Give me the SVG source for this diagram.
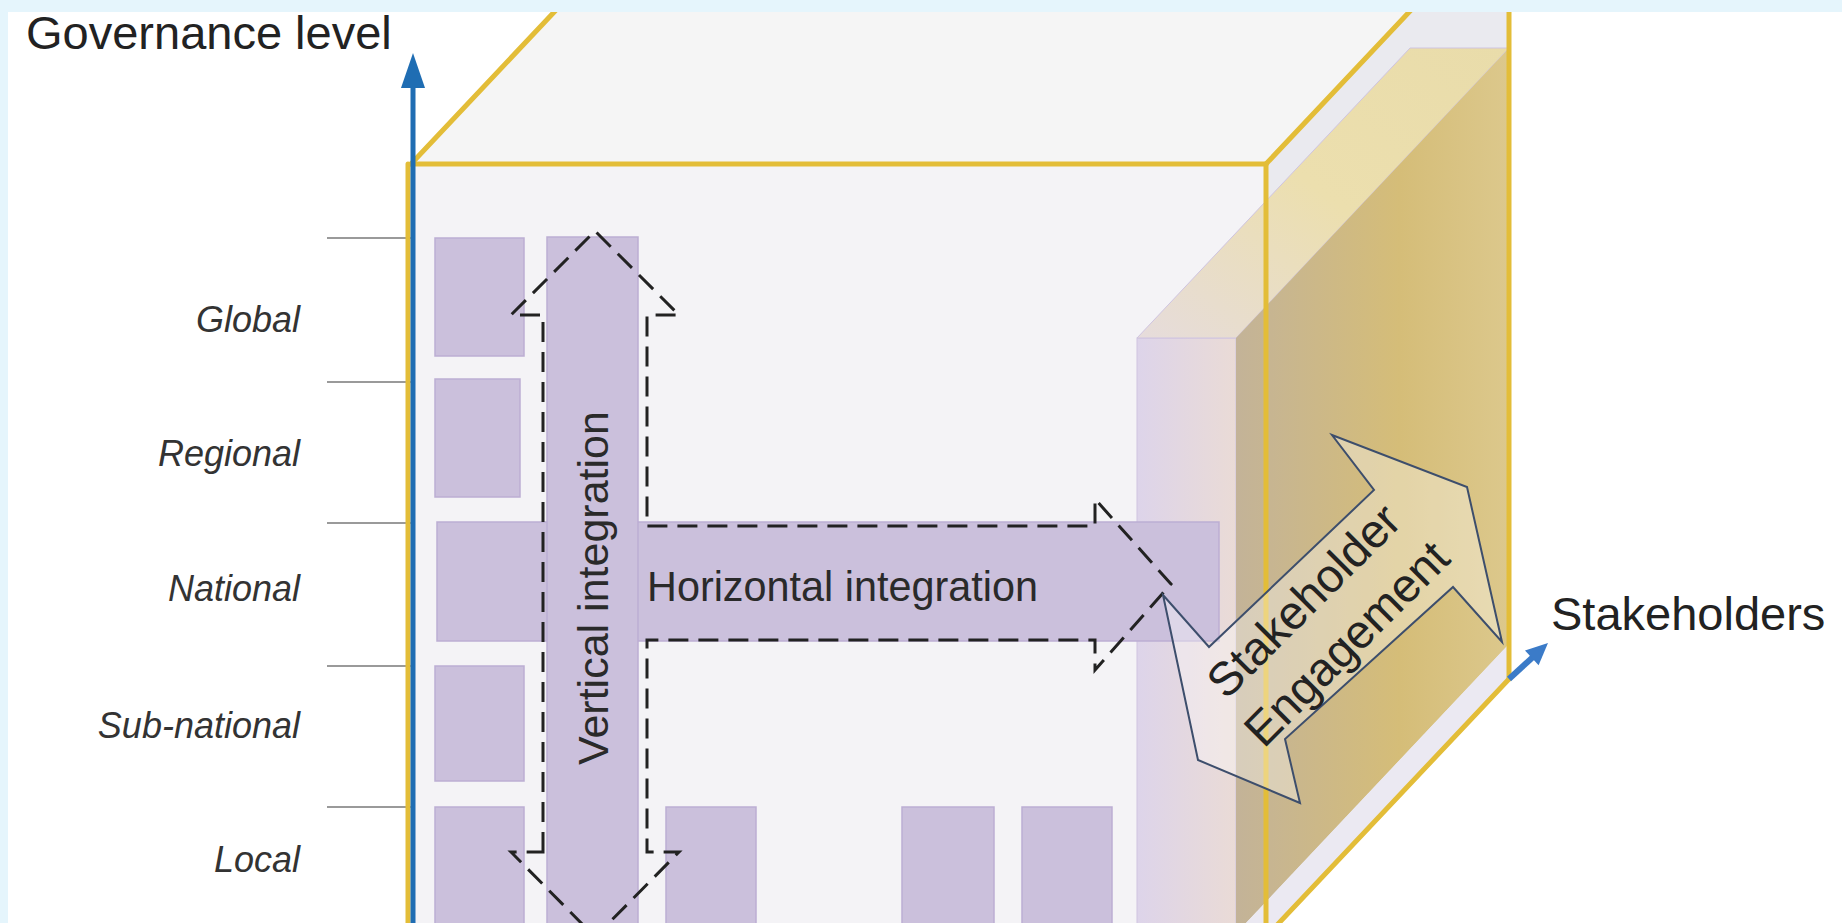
<svg xmlns="http://www.w3.org/2000/svg" width="1842" height="923" viewBox="0 0 1842 923">
<defs>
<style>
.box{fill:#cbc0dc;stroke:#bcaed3;stroke-width:1.5}
.tick{stroke:#9a9a9a;stroke-width:2}
.edge{stroke:#e3bd38;stroke-width:5;fill:none;stroke-linecap:round}
.lvl{font-family:"Liberation Sans",Arial,sans-serif;font-style:italic;font-size:36px;fill:#333;text-anchor:end}
.big{font-family:"Liberation Sans",Arial,sans-serif;font-size:47px;fill:#222}
.mid{font-family:"Liberation Sans",Arial,sans-serif;font-size:43px;fill:#2a2a2a}
.dash{fill:none;stroke:#222;stroke-width:3;stroke-dasharray:20 10}
</style>
<linearGradient id="slabFront" x1="0" y1="0" x2="1" y2="0">
<stop offset="0" stop-color="#ddd4ea"/>
<stop offset="1" stop-color="#eadbd6"/>
</linearGradient>
<linearGradient id="slabTop" x1="0" y1="1" x2="1" y2="0">
<stop offset="0" stop-color="#e6dcdc"/>
<stop offset="0.5" stop-color="#ecdfae"/>
<stop offset="1" stop-color="#e9dcaa"/>
</linearGradient>
<linearGradient id="slabSide" x1="0" y1="0" x2="1" y2="0">
<stop offset="0" stop-color="#c3b398"/>
<stop offset="0.6" stop-color="#d5bd78"/>
<stop offset="1" stop-color="#dcc88c"/>
</linearGradient>
</defs>
<rect x="0" y="0" width="1842" height="923" fill="#ffffff"/>

<g id="cube-faces">
<polygon points="411,164 654,-94 1509,-94 1266,164" fill="#f5f5f5"/>
<polygon points="1266,164 1509,-94 1509,679 1266,937" fill="#eaeaef"/>
<rect x="411" y="164" width="855" height="773" fill="#f4f3f6"/>
</g>

<g id="level-ticks">
<line class="tick" x1="327" y1="238" x2="411" y2="238"/>
<line class="tick" x1="327" y1="382" x2="411" y2="382"/>
<line class="tick" x1="327" y1="523" x2="411" y2="523"/>
<line class="tick" x1="327" y1="666" x2="411" y2="666"/>
<line class="tick" x1="327" y1="807" x2="411" y2="807"/>
</g>

<g id="stakeholder-slab">
<rect x="1137" y="338" width="99" height="600" fill="url(#slabFront)" stroke="#cfc4e0" stroke-width="1"/>
<polygon points="1137,338 1236,338 1509,48 1410,48" fill="url(#slabTop)" stroke="#cfc4e0" stroke-width="1"/>
<polygon points="1236,338 1509,48 1509,644 1246,923 1236,923" fill="url(#slabSide)"/>
<polygon points="1509,644 1509,679 1266,937 1246,923" fill="#ebe9f2"/>
</g>

<g id="box-global"><rect class="box" x="435" y="238" width="89" height="118"/></g>
<g id="box-regional"><rect class="box" x="435" y="379" width="85" height="118"/></g>
<g id="box-subnational"><rect class="box" x="435" y="666" width="89" height="115"/></g>
<g id="box-local-1"><rect class="box" x="435" y="807" width="89" height="130"/></g>
<g id="box-local-3"><rect class="box" x="666" y="807" width="90" height="130"/></g>
<g id="box-local-4"><rect class="box" x="902" y="807" width="92" height="130"/></g>
<g id="box-local-5"><rect class="box" x="1022" y="807" width="90" height="130"/></g>
<g id="horizontal-bar"><rect class="box" x="437" y="522" width="782" height="119"/></g>
<g id="vertical-bar"><rect class="box" x="547" y="237" width="91" height="700" stroke="none"/></g>

<g id="cube-edges">
<line class="edge" x1="411" y1="164" x2="1266" y2="164"/>
<line class="edge" x1="408" y1="164" x2="408" y2="930"/>
<line class="edge" x1="1266" y1="164" x2="1266" y2="930"/>
<line class="edge" x1="411" y1="164" x2="654" y2="-94"/>
<line class="edge" x1="1266" y1="164" x2="1509" y2="-94"/>
<line class="edge" x1="1509" y1="-94" x2="1509" y2="679"/>
<line class="edge" x1="1509" y1="679" x2="1262" y2="941"/>
</g>

<g id="connectors">
<line x1="413" y1="84" x2="413" y2="923" stroke="#1f6db3" stroke-width="5"/>
<polygon points="413,53 401,88 425,88" fill="#1f6db3"/>
<line x1="1509" y1="679" x2="1533" y2="657" stroke="#3b7bc8" stroke-width="6"/>
<polygon points="1548,643 1538.6,665.3 1525,650.6" fill="#3b7bc8"/>
<path class="dash" d="M543 852 V315 H511 L595 231 L679 315 H647 V526 H1095 V499 L1171 584 L1095 670 V640 H647 V852 H679 L595 937 L511 852 Z"/>
</g>

<g id="stakeholder-engagement">
<polygon points="1163,595 1209,647 1374,490 1332,435 1467,487 1502,642 1453,587 1285,739 1300,803 1198,760" fill="#ffffff" fill-opacity="0.35" stroke="#3d4e6c" stroke-width="2" stroke-linejoin="miter"/>
<text class="big" text-anchor="middle" font-size="48" transform="translate(1315,612) rotate(-45)">Stakeholder</text>
<text class="big" text-anchor="middle" font-size="48" transform="translate(1358,655) rotate(-45)">Engagement</text>
</g>

<g id="labels">
<text class="big" x="26" y="49">Governance level</text>
<text class="big" x="1551" y="630">Stakeholders</text>
<text class="lvl" x="300" y="332">Global</text>
<text class="lvl" x="300" y="466">Regional</text>
<text class="lvl" x="300" y="601">National</text>
<text class="lvl" x="300" y="738">Sub-national</text>
<text class="lvl" x="300" y="872">Local</text>
<text class="mid" x="647" y="601" font-size="41" textLength="391" lengthAdjust="spacingAndGlyphs">Horizontal integration</text>
<text class="mid" text-anchor="middle" font-size="44" transform="translate(608,588) rotate(-90)">Vertical integration</text>
</g>

<rect x="0" y="0" width="1842" height="12" fill="#e5f5fc"/>
<rect x="0" y="0" width="8" height="923" fill="#e5f5fc"/>
</svg>
